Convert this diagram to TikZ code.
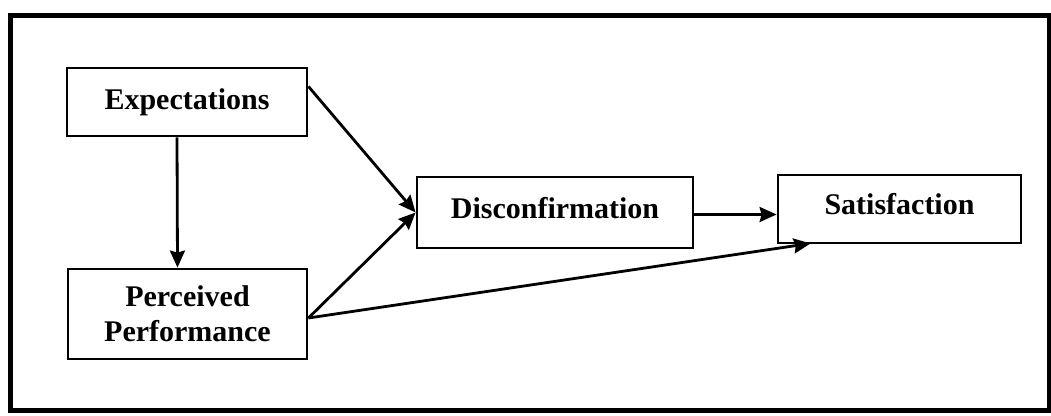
\documentclass[tikz,border=0pt]{standalone}
\usepackage{fontspec}
\setmainfont{Liberation Serif}
\usetikzlibrary{arrows.meta,calc}
\begin{document}
\begin{tikzpicture}[x=1pt,y=-1pt,
  box/.style={draw=black,line width=2.8pt,minimum width=#1,inner sep=0pt,align=center,
    font=\fontsize{30}{35}\selectfont\bfseries},
  arr/.style={line width=2.8pt,-{Stealth[length=17pt,width=15pt,inset=2pt]}}]
\useasboundingbox (0,0) rectangle (1051,415);
\draw[line width=5pt] (10,15) rectangle (1049,410);
\node[box=240pt,minimum height=68pt] (exp) at (187,102) {Expectations};
\node[box=239pt,minimum height=90pt] (perc) at (187.5,314) {Perceived\\Performance};
\node[box=276pt,minimum height=71pt,text depth=10pt] (dis) at (555,212.5) {Disconfirmation};
\node[box=243pt,minimum height=68pt,text depth=10pt] (sat) at (899.5,209) {Satisfaction};
\coordinate (expout) at ($(exp.north east)!0.28!(exp.south east)$);
\coordinate (percout) at ([yshift=-4pt]perc.east);
\coordinate (satin) at ([xshift=34pt,yshift=1pt]sat.south west);
\draw[arr] ([xshift=-10pt]exp.south) -- ([xshift=-10pt]perc.north);
\draw[arr] (expout) -- (dis.west);
\draw[arr] (percout) -- (dis.west);
\draw[arr] (percout) -- (satin);
\draw[arr] ([yshift=-2pt]dis.east) -- ([yshift=-2pt]dis.east -| sat.west);
\end{tikzpicture}
\end{document}
